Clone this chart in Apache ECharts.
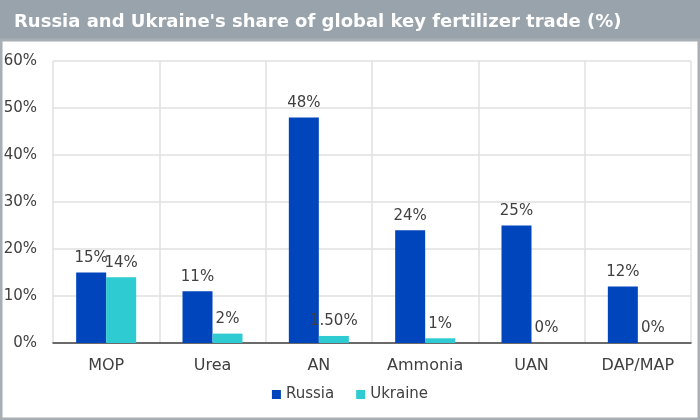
<!DOCTYPE html>
<html>
<head>
<meta charset="utf-8">
<script src="https://cdn.jsdelivr.net/npm/echarts@6/dist/echarts.min.js"></script>
<style>
  html, body { margin: 0; padding: 0; background: #fff; }
  #chart { width: 700px; height: 420px; }
</style>
</head>
<body>
<div id="chart"></div>
<script>
// categories and values
var categories = ['MOP', 'Urea', 'AN', 'Ammonia', 'UAN', 'DAP/MAP'];
var russia = [15, 11, 48, 24, 25, 12];
var ukraine = [14, 2, 1.5, 1, 0, 0];
var ukraineLabels = ['14%', '2%', '1.50%', '1%', '0%', '0%'];
var yTicks = [0, 10, 20, 30, 40, 50, 60];

var font = 'DejaVu Sans';
var textColor = '#404040';

var chart = echarts.init(document.getElementById('chart'));

var option = {
  animation: false,
  textStyle: { fontFamily: font },
  graphic: [
    {
      type: 'rect',
      shape: { x: 0, y: 0, width: 700, height: 41 },
      style: { fill: '#99a3ab' },
      z: 0
    },
    {
      type: 'rect',
      shape: { x: 1, y: 40, width: 698, height: 379 },
      style: { fill: 'none', stroke: '#a7aeb4', lineWidth: 3 },
      z: 0
    }
  ],
  title: {
    text: "Russia and Ukraine's share of global key fertilizer trade (%)",
    left: 9,
    top: 8,
    textStyle: { color: '#fff', fontSize: 18, fontWeight: 'bold', fontFamily: font }
  },
  legend: {
    bottom: 13,
    left: 'center',
    itemWidth: 9,
    itemHeight: 9,
    itemGap: 22,
    icon: 'rect',
    textStyle: { color: textColor, fontSize: 15, fontFamily: font },
    data: ['Russia', 'Ukraine']
  },
  grid: { left: 53, right: 9, top: 61, bottom: 77 },
  xAxis: {
    type: 'category',
    data: categories,
    axisTick: { show: false },
    axisLine: { lineStyle: { color: '#404040', width: 1.5 } },
    axisLabel: { color: textColor, fontSize: 16, margin: 15, fontFamily: font },
    splitLine: { show: true, lineStyle: { color: '#e0e0e0', width: 1.5 } }
  },
  yAxis: {
    type: 'value',
    min: yTicks[0],
    max: yTicks[yTicks.length - 1],
    interval: 10,
    axisLine: { show: false },
    axisTick: { show: false },
    axisLabel: { color: textColor, fontSize: 15, margin: 16, formatter: '{value}%', fontFamily: font },
    splitLine: { lineStyle: { color: '#e0e0e0', width: 1.5 } }
  },
  series: [
    {
      name: 'Russia',
      type: 'bar',
      data: russia,
      barWidth: 30,
      barGap: '0%',
      itemStyle: { color: '#0045bb' },
      label: {
        show: true, position: 'top', distance: 7,
        color: textColor, fontSize: 15, fontFamily: font,
        formatter: function (p) { return p.value + '%'; }
      }
    },
    {
      name: 'Ukraine',
      type: 'bar',
      data: ukraine,
      barWidth: 30,
      itemStyle: { color: '#2ecbd2' },
      label: {
        show: true, position: 'top', distance: 7,
        color: textColor, fontSize: 15, fontFamily: font,
        formatter: function (p) { return ukraineLabels[p.dataIndex]; }
      }
    }
  ]
};

chart.setOption(option);
</script>
</body>
</html>
